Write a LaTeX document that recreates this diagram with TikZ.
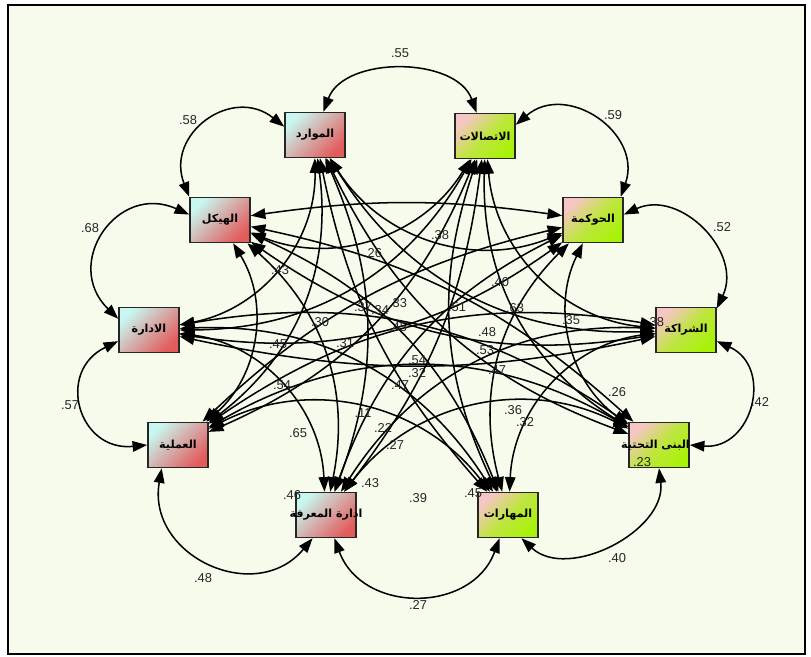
\documentclass[tikz,border=0pt]{standalone}
\usepackage{fontspec}
\setmainfont{Liberation Sans}
\newfontfamily\arabicfont[Script=Arabic]{DejaVu Sans}
\TeXXeTstate=1
\usetikzlibrary{arrows.meta}
\definecolor{paper}{RGB}{246,251,236}
\definecolor{lcyan}{RGB}{200,246,240}
\definecolor{lred}{RGB}{226,92,92}
\definecolor{lpink}{RGB}{246,198,196}
\definecolor{llime}{RGB}{168,242,10}

\begin{document}
\begin{tikzpicture}[x=0.03cm,y=-0.03cm,>={Triangle[length=12.5pt,width=9pt]},
  box/.style={draw=black!85,line width=1.3pt,minimum width=1.8cm,minimum height=1.35cm,inner sep=0pt,
    font=\arabicfont\bfseries\fontsize{9.5}{11}\selectfont},
  bluebox/.style={box,shading=axis,top color=lcyan,bottom color=lred,shading angle=45},
  limebox/.style={box,shading=axis,top color=lpink,bottom color=llime,middle color=llime!70!lpink,shading angle=45},
  cov/.style={<->,line width=1.3pt},
  val/.style={font=\fontsize{11}{12}\selectfont,inner sep=0pt,text=black!85}]
\useasboundingbox (0,0) rectangle (811,657);
\fill[white] (0,0) rectangle (811,657);
\draw[line width=1.6pt,fill=paper] (8,5) rectangle (805,654);

\node[bluebox] (res) at (315,135) {\beginR الموارد\endR};
\node[limebox] (com) at (485,136) {\beginR الاتصالات\endR};
\node[limebox] (gov) at (593,220) {\beginR الحوكمة\endR};
\node[limebox] (par) at (686,330) {\beginR الشراكة\endR};
\node[limebox] (inf) at (659,445) {\makebox[0pt]{\hspace*{-6pt}\beginR البنى التحتية\endR}};
\node[limebox] (ski) at (508,515) {\beginR المهارات\endR};
\node[bluebox] (kno) at (326,515) {\makebox[0pt]{\beginR ادارة المعرفة\endR}};
\node[bluebox] (pro) at (178,445) {\beginR العملية\endR};
\node[bluebox] (adm) at (149,330) {\beginR الادارة\endR};
\node[bluebox] (str) at (220,220) {\beginR الهيكل\endR};

\draw[cov] (res.70) to[bend left=70] (com.110);
\draw[cov] (com.20) to[bend left=75,looseness=1.35] (gov.40);
\draw[cov] (gov.10) to[bend left=70,looseness=1.2] (par.35);
\draw[cov] (par.-20) to[bend left=80,looseness=1.5] (inf.east);
\draw[cov] (inf.south) to[bend left=70,looseness=1.05] (ski.-60);
\draw[cov] (ski.-110) to[bend left=70,looseness=1.25] (kno.-70);
\draw[cov] (kno.-120) to[bend left=75,looseness=1.37] (pro.-125);
\draw[cov] (pro.west) to[bend left=80,looseness=1.65] (adm.-160);
\draw[cov] (adm.160) to[bend left=80,looseness=1.6] (str.170);
\draw[cov] (str.north west) to[bend left=75,looseness=1.45] (res.165);

\foreach \a/\b/\k in {res/gov/40,com/par/40,gov/inf/40,par/ski/40,inf/kno/40,
    ski/pro/40,kno/adm/40,pro/str/40,adm/res/40,str/com/40,
    res/par/30,com/inf/30,gov/ski/30,par/kno/30,inf/pro/30,
    ski/adm/30,kno/str/30,pro/res/30,adm/com/30,str/gov/-8,
    res/inf/22,com/ski/22,gov/kno/22,par/pro/22,inf/adm/22,
    ski/str/22,kno/res/22,pro/com/22,adm/gov/22,str/par/22,
    res/ski/15,com/kno/-15,gov/pro/15,par/adm/-12,inf/str/15}
  \draw[cov] (\a) to[bend right=\k] (\b);

\foreach \x/\y/\lab [count=\n] in {400/53/.55,613/115/.59,722/227/.52,760/402/.42,617/558/.40,
    418/605/.27,203/578/.48,70/405/.57,90/228/.68,188/120/.58,
    373/253/.26,440/235/.38,280/270/.43,500/282/.40,363/307/.37,380/310/.34,398/303/.33,
    457/307/.51,515/308/.63,571/320/.35,655/322/.38,320/322/.30,398/327/.45,487/332/.48,
    278/344/.45,345/343/.31,485/350/.53,417/360/.54,417/373/.32,497/370/.47,282/385/.54,
    400/385/.47,363/413/.11,513/410/.36,525/422/.32,298/433/.65,383/428/.22,395/445/.27,
    617/392/.26,642/462/.23,292/495/.46,370/483/.43,418/498/.39,473/493/.45}
  \node[val] (v\n) at (\x,\y) {\lab};
\end{tikzpicture}
\end{document}
